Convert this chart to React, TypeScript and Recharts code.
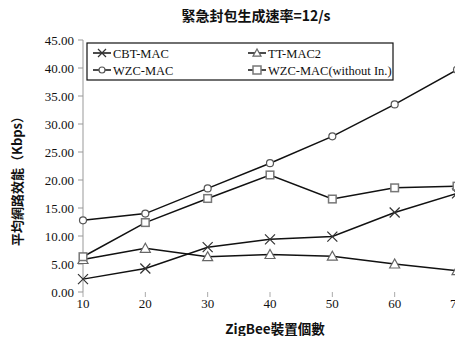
import React from 'react';
import { LineChart, Line, XAxis, YAxis } from 'recharts';

// ZigBee device counts
const deviceCounts = [10, 20, 30, 40, 50, 60, 70];

// average network throughput (Kbps)
const cbtMac = [2.3, 4.2, 8.0, 9.4, 9.9, 14.2, 17.6];
const ttMac2 = [5.8, 7.8, 6.3, 6.7, 6.4, 5.0, 3.8];
const wzcMac = [12.8, 14.0, 18.5, 23.0, 27.8, 33.5, 39.7];
const wzcMacNoIn = [6.3, 12.4, 16.7, 20.9, 16.6, 18.6, 18.9];

const yTicks = [0, 5, 10, 15, 20, 25, 30, 35, 40, 45];

const seriesNames = ['CBT-MAC', 'TT-MAC2', 'WZC-MAC', 'WZC-MAC(without In.)'];
const seriesKeys = ['cbt', 'tt', 'wzc', 'wzcNoIn'];

const data = deviceCounts.map((n, i) => ({
  n,
  cbt: cbtMac[i],
  tt: ttMac2[i],
  wzc: wzcMac[i],
  wzcNoIn: wzcMacNoIn[i],
}));

const SERIF = '"Liberation Serif", "DejaVu Serif", serif';
const CJK = '"Noto Sans CJK TC", "Noto Sans CJK SC", sans-serif';

// --- markers ---
const Cross = ({ cx, cy, s = 5 }: any) => (
  <path
    d={`M${cx - s},${cy - s}L${cx + s},${cy + s}M${cx - s},${cy + s}L${cx + s},${cy - s}`}
    stroke="#333"
    strokeWidth={1.2}
    fill="none"
  />
);
const Tri = ({ cx, cy, s = 5 }: any) => (
  <polygon
    points={`${cx - s},${cy + s * 0.8} ${cx + s},${cy + s * 0.8} ${cx},${cy - s}`}
    stroke="#666"
    strokeWidth={1.2}
    fill="#fff"
  />
);
const Circ = ({ cx, cy, s = 3.5 }: any) => (
  <circle cx={cx} cy={cy} r={s} stroke="#555" strokeWidth={1.2} fill="#fff" />
);
const Sq = ({ cx, cy, s = 3.8 }: any) => (
  <rect x={cx - s} y={cy - s} width={s * 2} height={s * 2} stroke="#777" strokeWidth={1.5} fill="#fff" />
);

const markers = [Cross, Tri, Circ, Sq];

const dotFor = (M: any) => (props: any) => {
  const { cx, cy, index } = props;
  if (cx == null || cy == null) return <g key={index} />;
  return <M key={index} cx={cx} cy={cy} />;
};

const LegendItem = ({ x, y, idx }: { x: number; y: number; idx: number }) => {
  const M = markers[idx];
  return (
    <g>
      <line x1={x} y1={y} x2={x + 18} y2={y} stroke="#111" strokeWidth={1.5} />
      <M cx={x + 9} cy={y} s={idx === 2 ? 3 : 4} />
      <text x={x + 20} y={y + 4.5} fontFamily={SERIF} fontSize={12.5} fill="#111">
        {seriesNames[idx]}
      </text>
    </g>
  );
};

export default function App() {
  return (
    <div style={{ position: 'relative', width: 463, height: 344, margin: -8, background: '#fff' }}>
      <LineChart
        width={463}
        height={344}
        data={data}
        margin={{ top: 40, right: 6, left: 0, bottom: 22 }}
      >
        <XAxis
          dataKey="n"
          type="number"
          domain={[10, 70]}
          ticks={deviceCounts}
          axisLine={false}
          tickLine={{ stroke: '#aaa' }}
          tickSize={5}
          height={30}
          tick={{ fontSize: 13, fill: '#111', fontFamily: SERIF }}
        />
        <YAxis
          domain={[0, 45]}
          ticks={yTicks}
          width={83}
          axisLine={{ stroke: '#999' }}
          tickLine={{ stroke: '#999' }}
          tickSize={5}
          tickMargin={4}
          tickFormatter={(v: number) => v.toFixed(2)}
          tick={{ fontSize: 13, fill: '#111', fontFamily: SERIF }}
        />
        {seriesKeys.map((k, i) => (
          <Line
            key={k}
            dataKey={k}
            name={seriesNames[i]}
            stroke="#111"
            strokeWidth={1.5}
            dot={dotFor(markers[i])}
            activeDot={false}
            isAnimationActive={false}
          />
        ))}
      </LineChart>
      <svg
        width={463}
        height={344}
        style={{ position: 'absolute', left: 0, top: 0, pointerEvents: 'none' }}
      >
        <text x={256} y={21} textAnchor="middle" fontFamily={CJK} fontWeight="bold" fontSize={14} fill="#111">
          緊急封包生成速率=12/s
        </text>
        <text
          x={0}
          y={0}
          transform="translate(22,178) rotate(-90)"
          textAnchor="middle"
          fontFamily={CJK}
          fontWeight="bold"
          fontSize={13}
          fill="#111"
        >
          平均網路效能（Kbps）
        </text>
        <text x={275} y={334} textAnchor="middle" fontFamily={CJK} fontWeight="bold" fontSize={13.5} fill="#111">
          ZigBee裝置個數
        </text>
        <rect x={87} y={43} width={306} height={37} fill="#fff" stroke="#111" strokeWidth={1.2} />
        <LegendItem x={93} y={53} idx={0} />
        <LegendItem x={248} y={53} idx={1} />
        <LegendItem x={93} y={70} idx={2} />
        <LegendItem x={248} y={70} idx={3} />
      </svg>
    </div>
  );
}
